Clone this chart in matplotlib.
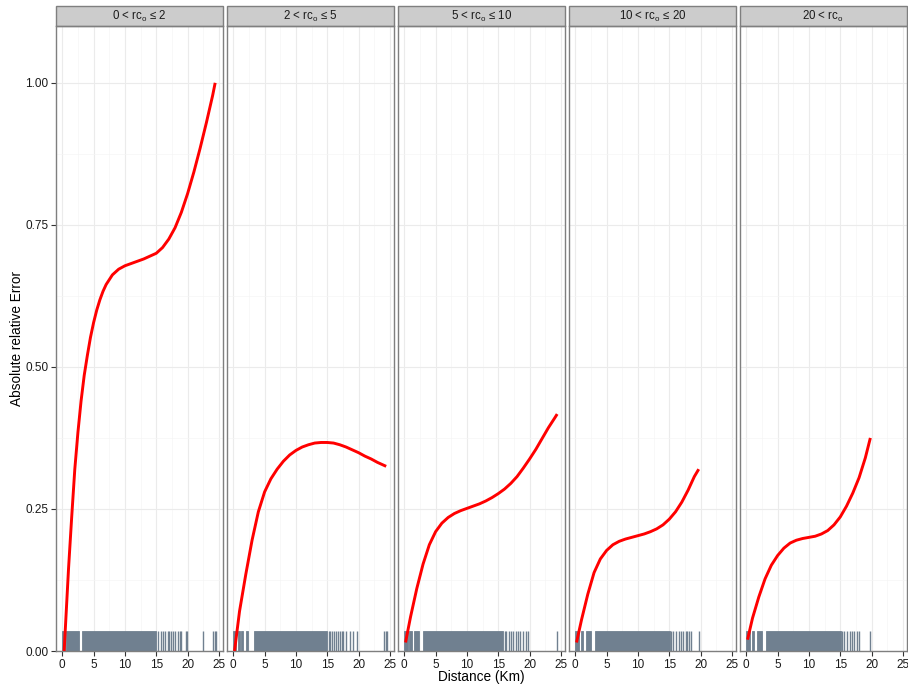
import numpy as np
import matplotlib
matplotlib.use('Agg')
import matplotlib.pyplot as plt
from matplotlib.patches import Rectangle
from matplotlib.ticker import MultipleLocator

plt.rcParams['font.family'] = ['Liberation Sans', 'DejaVu Sans']
plt.rcParams['mathtext.fontset'] = 'custom'
plt.rcParams['mathtext.rm'] = 'Liberation Sans'

# facet labels
strip_labels = [
    r'0 < rc$_{\mathrm{o}}$ ≤ 2',
    r'2 < rc$_{\mathrm{o}}$ ≤ 5',
    r'5 < rc$_{\mathrm{o}}$ ≤ 10',
    r'10 < rc$_{\mathrm{o}}$ ≤ 20',
    r'20 < rc$_{\mathrm{o}}$',
]

# smoothed error curves (distance km, abs. relative error)
dist_1 = [0.3, 1, 1.5, 2, 2.5, 3, 3.5, 4, 4.5, 5, 5.5, 6, 6.5, 7, 8, 9, 10, 11, 12, 13, 14, 15, 16, 17,
          18, 19, 20, 21, 22, 23, 24, 24.4]
err_1 = [0.0, 0.145, 0.235, 0.32, 0.385, 0.44, 0.485, 0.52, 0.552, 0.578, 0.600, 0.618, 0.633, 0.645,
         0.662, 0.672, 0.678, 0.682, 0.686, 0.69, 0.695, 0.70, 0.71, 0.725, 0.745, 0.772, 0.805, 0.843,
         0.885, 0.93, 0.978, 1.0]

dist_2 = [0.2, 1, 2, 3, 4, 5, 6, 7, 8, 9, 10, 11, 12, 13, 14, 15, 16, 17, 18, 19, 20, 21, 22, 23, 24, 24.4]
err_2 = [0.0, 0.07, 0.135, 0.195, 0.245, 0.28, 0.303, 0.32, 0.334, 0.345, 0.353, 0.359, 0.363, 0.366, 0.367,
         0.367, 0.366, 0.363, 0.359, 0.354, 0.349, 0.343, 0.338, 0.332, 0.327, 0.325]

dist_3 = [0.2, 1, 2, 3, 4, 5, 6, 7, 8, 9, 10, 11, 12, 13, 14, 15, 16, 17, 18, 19, 20, 21, 22, 23, 24, 24.4]
err_3 = [0.015, 0.06, 0.11, 0.153, 0.187, 0.21, 0.225, 0.235, 0.242, 0.247, 0.251, 0.255, 0.259, 0.264, 0.27,
         0.277, 0.285, 0.295, 0.307, 0.322, 0.338, 0.355, 0.374, 0.393, 0.41, 0.417]

dist_4 = [0.2, 1, 2, 3, 4, 5, 6, 7, 8, 9, 10, 11, 12, 13, 14, 15, 16, 17, 18, 19, 19.7]
err_4 = [0.015, 0.055, 0.1, 0.138, 0.162, 0.177, 0.187, 0.193, 0.197, 0.2, 0.203, 0.206, 0.21, 0.215, 0.222,
         0.232, 0.245, 0.262, 0.283, 0.307, 0.32]

dist_5 = [0.2, 1, 2, 3, 4, 5, 6, 7, 8, 9, 10, 11, 12, 13, 14, 15, 16, 17, 18, 19, 19.8]
err_5 = [0.02, 0.058, 0.095, 0.127, 0.151, 0.168, 0.181, 0.19, 0.195, 0.198, 0.2, 0.202, 0.206, 0.212, 0.222,
         0.236, 0.255, 0.278, 0.305, 0.34, 0.375]

# rug: dense stretches of observations (start, end) and isolated observations
rug_blocks_1 = [(0.0, 0.5), (0.6, 2.6), (3.1, 15.0)]
rug_ticks_1 = [15.3, 15.8, 16.1, 16.4, 16.8, 17.1, 17.4, 17.7, 18.0, 18.4, 18.8, 19.0, 19.7, 19.9,
               22.4, 24.1, 24.3, 24.5]

rug_blocks_2 = [(0.0, 0.4), (0.7, 1.0), (1.3, 1.6), (2.0, 2.3), (3.25, 15.0)]
rug_ticks_2 = [15.2, 15.5, 15.8, 16.1, 16.4, 16.7, 17.0, 17.3, 17.5, 18.0, 18.6, 19.1, 19.8, 24.1, 24.3, 24.5]

rug_blocks_3 = [(0.0, 0.6), (0.8, 1.2), (1.6, 2.4), (3.0, 15.7)]
rug_ticks_3 = [16.0, 16.3, 16.7, 17.0, 17.4, 17.8, 18.2, 18.5, 19.0, 19.4, 19.7, 24.4]

rug_blocks_4 = [(0.0, 0.6), (0.9, 1.3), (1.7, 2.5), (3.2, 15.1)]
rug_ticks_4 = [15.3, 15.6, 16.0, 16.5, 16.9, 17.2, 17.6, 17.9, 18.2, 18.4, 19.7]

rug_blocks_5 = [(0.0, 0.6), (0.9, 1.3), (1.7, 2.5), (3.2, 15.1)]
rug_ticks_5 = [15.3, 15.6, 16.0, 16.5, 16.9, 17.2, 17.6, 18.0, 19.7]

curves = [(dist_1, err_1), (dist_2, err_2), (dist_3, err_3), (dist_4, err_4), (dist_5, err_5)]
rugs = [(rug_blocks_1, rug_ticks_1), (rug_blocks_2, rug_ticks_2), (rug_blocks_3, rug_ticks_3),
        (rug_blocks_4, rug_ticks_4), (rug_blocks_5, rug_ticks_5)]

W, H = 908, 685
fig = plt.figure(figsize=(W / 100, H / 100), dpi=100)

left0, step, pw = 56, 171, 166.7
ptop, pbot = 26, 651
strip_h = 20
rug_col = '#708090'
rug_len = 0.032

for i in range(5):
    ax = fig.add_axes([(left0 + i * step) / W, (H - pbot) / H, pw / W, (pbot - ptop) / H])
    ax.set_xlim(-1.0, 25.6)
    ax.set_ylim(0, 1.1)

    ax.xaxis.set_major_locator(MultipleLocator(5))
    ax.xaxis.set_minor_locator(MultipleLocator(2.5))
    ax.yaxis.set_major_locator(MultipleLocator(0.25))
    ax.yaxis.set_minor_locator(MultipleLocator(0.125))
    ax.grid(which='major', color='#EBEBEB', lw=0.8)
    ax.grid(which='minor', color='#F5F5F5', lw=0.5)
    ax.set_axisbelow(True)

    for sp in ax.spines.values():
        sp.set_color('#7F7F7F')
        sp.set_linewidth(1.0)

    ax.tick_params(which='minor', length=0)
    ax.tick_params(which='major', length=3.5, width=0.8, color='#333333',
                   labelsize=8.5, labelcolor='#1a1a1a', pad=2)
    ax.set_xticks([0, 5, 10, 15, 20, 25])
    ax.set_xticklabels(['0', '5', '10', '15', '20', '25'])
    if i == 0:
        ax.set_yticks([0, 0.25, 0.5, 0.75, 1.0])
        ax.set_yticklabels(['0.00', '0.25', '0.50', '0.75', '1.00'])
    else:
        ax.tick_params(axis='y', which='both', left=False, labelleft=False)

    # rug along the bottom edge
    blocks, ticks = rugs[i]
    for a, b in blocks:
        ax.axvspan(a, b, ymin=0, ymax=rug_len, color=rug_col, lw=0.6, zorder=2)
    ax.vlines(ticks, 0, rug_len, transform=ax.get_xaxis_transform(), color=rug_col, lw=1.0, zorder=2)

    x, y = curves[i]
    ax.plot(x, y, color='#FF0000', lw=2.1, zorder=3, solid_capstyle='butt', solid_joinstyle='round')

    # facet strip
    sh = strip_h / (pbot - ptop)
    ax.add_patch(Rectangle((0, 1), 1, sh, transform=ax.transAxes, clip_on=False,
                           facecolor='#CCCCCC', edgecolor='#7F7F7F', lw=1.0))
    ax.text(0.5, 1 + sh / 2, strip_labels[i], transform=ax.transAxes, ha='center', va='center',
            fontsize=8.3, color='#1a1a1a')

fig.text(481 / W, (H - 677) / H, 'Distance (Km)', ha='center', va='center', fontsize=9.8)
fig.text(17 / W, (H - 338) / H, 'Absolute relative Error', ha='center', va='center',
         rotation=90, fontsize=9.8)

fig.savefig('out.png', dpi=100)
